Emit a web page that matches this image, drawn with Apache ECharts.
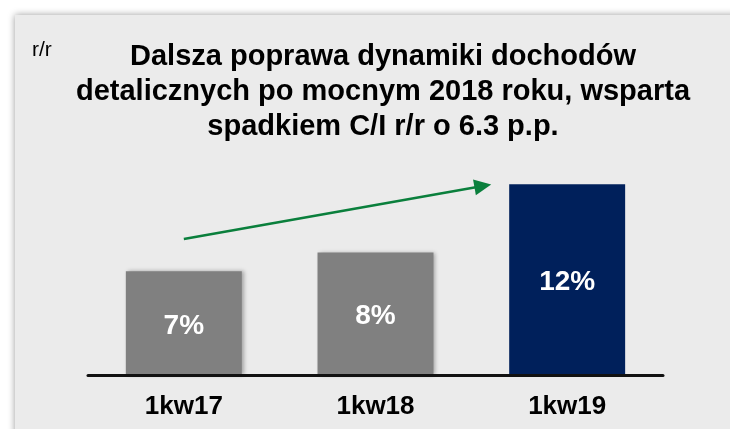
<!DOCTYPE html>
<html>
<head>
<meta charset="utf-8">
<script src="https://cdn.jsdelivr.net/npm/echarts@6/dist/echarts.min.js"></script>
<style>
  html, body { margin: 0; padding: 0; background: #fff; }
  #chart { width: 730px; height: 429px; }
</style>
</head>
<body>
<div id="chart"></div>
<script>
// data
const categories = ['1kw17', '1kw18', '1kw19']
const growth = [6.7, 7.9, 12.3]
const arrowFrom = [0, 8.77]
const arrowTo = [1.56, 12.2]

const titleText = 'Dalsza poprawa dynamiki dochodów\ndetalicznych po mocnym 2018 roku, wsparta\nspadkiem C/I r/r o 6.3 p.p.'

const font = "'Liberation Sans', Arial, sans-serif"

const chart = echarts.init(document.getElementById('chart'))

const barData = growth.map((v, i) => {
  const last = i === growth.length - 1
  return {
    value: v,
    itemStyle: last
      ? { color: '#00205b' }
      : { color: '#808080', shadowBlur: 4, shadowOffsetX: 2, shadowColor: 'rgba(0,0,0,0.3)' },
  }
})

const option = {
  animation: false,
  backgroundColor: '#ffffff',
  graphic: [
    {
      type: 'rect',
      z: -10,
      shape: { x: 15, y: 15, width: 740, height: 440 },
      style: { fill: '#ebebeb', shadowBlur: 7, shadowColor: 'rgba(0,0,0,0.4)' },
    },
  ],
  title: [
    {
      text: 'r/r',
      left: 32,
      top: 40,
      padding: 0,
      textStyle: { fontFamily: font, fontSize: 21, fontWeight: 'normal', color: '#000' },
    },
    {
      text: titleText,
      left: 383,
      top: 39,
      padding: 0,
      textAlign: 'center',
      textStyle: {
        fontFamily: font,
        fontSize: 29,
        fontWeight: 'bold',
        lineHeight: 35,
        color: '#000',
      },
    },
  ],
  grid: { left: 88, right: 67, top: 158, bottom: 54 },
  xAxis: [
    {
      type: 'category',
      data: categories,
      z: 10,
      axisLine: { lineStyle: { color: '#111', width: 3 } },
      axisTick: { show: false },
      axisLabel: {
        margin: 19,
        fontFamily: font,
        fontSize: 26,
        fontWeight: 'bold',
        color: '#000',
      },
    },
    {
      type: 'value',
      min: -0.5,
      max: 2.5,
      show: false,
    },
  ],
  yAxis: {
    type: 'value',
    min: 0,
    max: 14,
    show: false,
  },
  series: [
    {
      type: 'bar',
      data: barData,
      barWidth: '60.5%',
      label: {
        show: true,
        position: 'inside',
        offset: [0, 3],
        formatter: (p) => Math.round(p.value) + '%',
        fontFamily: font,
        fontSize: 28,
        fontWeight: 'bold',
        color: '#fff',
      },
    },
    {
      type: 'line',
      xAxisIndex: 1,
      data: [arrowFrom, arrowTo],
      symbol: 'none',
      lineStyle: { opacity: 0 },
      silent: true,
      markLine: {
        silent: true,
        symbol: ['none', 'triangle'],
        symbolSize: [16, 17],
        label: { show: false },
        lineStyle: { type: 'solid', color: '#0a7f3c', width: 2.5 },
        data: [[{ coord: arrowFrom }, { coord: arrowTo }]],
      },
    },
  ],
}

chart.setOption(option)
</script>
</body>
</html>
